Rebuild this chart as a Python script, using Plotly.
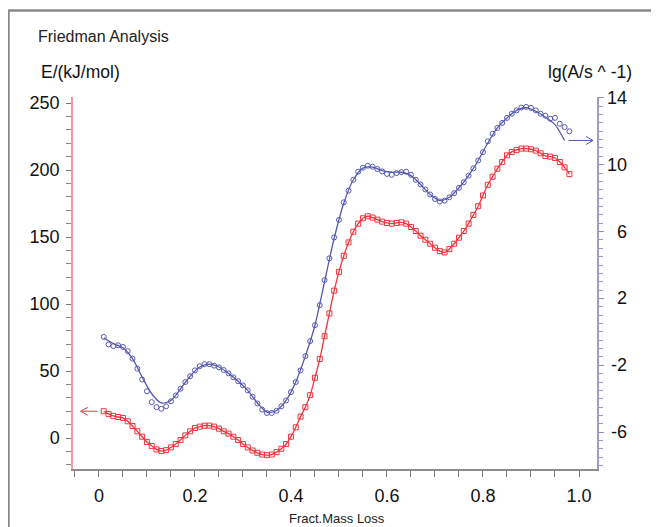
import plotly.graph_objects as go

# ---------------- data ----------------
frac = [0.01, 0.02, 0.03, 0.04, 0.05, 0.06, 0.07, 0.08, 0.09, 0.10,
        0.11, 0.12, 0.13, 0.14, 0.15, 0.16, 0.17, 0.18, 0.19, 0.20,
        0.21, 0.22, 0.23, 0.24, 0.25, 0.26, 0.27, 0.28, 0.29, 0.30,
        0.31, 0.32, 0.33, 0.34, 0.35, 0.36, 0.37, 0.38, 0.39, 0.40,
        0.41, 0.42, 0.43, 0.44, 0.45, 0.46, 0.47, 0.48, 0.49, 0.50,
        0.51, 0.52, 0.53, 0.54, 0.55, 0.56, 0.57, 0.58, 0.59, 0.60,
        0.61, 0.62, 0.63, 0.64, 0.65, 0.66, 0.67, 0.68, 0.69, 0.70,
        0.71, 0.72, 0.73, 0.74, 0.75, 0.76, 0.77, 0.78, 0.79, 0.80,
        0.81, 0.82, 0.83, 0.84, 0.85, 0.86, 0.87, 0.88, 0.89, 0.90,
        0.91, 0.92, 0.93, 0.94, 0.95, 0.96, 0.97, 0.98]

# Activation energy E / (kJ/mol)  (left axis, red squares)
energy = [20, 18, 16.5, 15.7, 15, 12.5, 9, 5, 1, -3,
          -6, -8.5, -9.7, -9, -7, -4.5, -1.5, 2, 5, 7.5,
          8.5, 9.2, 9.3, 8.5, 7, 5, 3.3, 1, -1.5, -4.5,
          -7, -9.3, -11, -12.3, -12.8, -12.3, -10.5, -8, -4.5, 1,
          8, 16, 23, 32, 45, 59, 76, 93, 110, 124,
          136, 146, 154, 160, 164, 165.5, 164.5, 163, 161.5, 160.5,
          160, 160.5, 161, 160, 157.5, 154.5, 151, 148, 145, 142,
          139.5, 138.5, 141, 145, 149.5, 154.5, 160, 166.5, 173, 181,
          189, 195, 201, 206, 211, 213.5, 215, 216, 216, 215.5,
          214.5, 212.5, 210.5, 210, 209, 206, 202, 197]

# lg(A / s^-1)  (right axis, blue circles)
lg_a = [-0.3, -0.75, -0.85, -0.8, -0.9, -1.15, -1.6, -2.2, -2.85, -3.55,
        -4.2, -4.5, -4.6, -4.45, -4.15, -3.8, -3.4, -3.0, -2.65, -2.3,
        -2.05, -1.93, -1.93, -2.02, -2.12, -2.28, -2.48, -2.72, -2.95, -3.2,
        -3.5, -3.88, -4.28, -4.65, -4.85, -4.85, -4.72, -4.45, -4.1, -3.6,
        -3.0, -2.3, -1.45, -0.55, 0.4, 1.6, 3.1, 4.4, 5.65, 6.7,
        7.75, 8.45, 9.1, 9.58, 9.82, 9.94, 9.88, 9.74, 9.6, 9.45,
        9.4, 9.5, 9.56, 9.58, 9.4, 9.1, 8.82, 8.52, 8.22, 7.95,
        7.8, 7.85, 8.05, 8.3, 8.62, 8.95, 9.35, 9.78, 10.25, 10.75,
        11.4, 11.85, 12.2, 12.5, 12.8, 13.05, 13.25, 13.42, 13.46, 13.4,
        13.25, 13.05, 12.93, 12.75, 12.8, 12.45, 12.25, 12.0]

# smoothed fit line drawn through the lg(A) points
fit_frac = [0.01, 0.03, 0.05, 0.07, 0.09, 0.11, 0.13, 0.15, 0.17, 0.19,
            0.21, 0.23, 0.25, 0.27, 0.29, 0.31, 0.33, 0.35, 0.37, 0.39,
            0.41, 0.43, 0.45, 0.47, 0.49, 0.51, 0.53, 0.55, 0.57, 0.59,
            0.61, 0.63, 0.65, 0.67, 0.69, 0.71, 0.73, 0.75, 0.77, 0.79,
            0.81, 0.83, 0.85, 0.87, 0.89, 0.91, 0.93, 0.95, 0.97]
lg_a_fit = [-0.35, -0.7, -0.95, -1.6, -2.7, -3.7, -4.25, -4.1, -3.4, -2.65,
            -2.1, -1.93, -2.1, -2.48, -2.95, -3.5, -4.25, -4.8, -4.7, -4.1,
            -3.0, -1.45, 0.4, 3.0, 5.6, 7.7, 9.1, 9.8, 9.85, 9.65,
            9.55, 9.55, 9.35, 8.82, 8.22, 7.85, 8.05, 8.62, 9.35, 10.25,
            11.3, 12.2, 12.8, 13.25, 13.42, 13.2, 12.85, 12.4, 11.45]

x_tickvals = [0, 0.2, 0.4, 0.6, 0.8, 1.0]
x_ticktext = ["0", "0.2", "0.4", "0.6", "0.8", "1.0"]
e_tickvals = [0, 50, 100, 150, 200, 250]
a_tickvals = [-6, -2, 2, 6, 10, 14]

# ---------------- styling / layout ----------------
WIN_W, WIN_H = 659, 527
OFF = 8                              # page body margin
W, H = WIN_W - OFF, WIN_H - OFF
L, R, T, B = 73, 597, 97, 469        # plot-area box in window pixels
RED = "#f2343f"
BLUE = "#5558b0"
TICKFONT = dict(family="Liberation Sans Narrow, Liberation Sans, Arial", size=18, color="#111")

x_range = [-0.054, 1.0375]
e_range = [-23.1, 254.5]
a_range = [-8.2, 14.05]


def px_x(p):
    return (p - L) / (R - L)


def px_y(p):
    return (B - p) / (B - T)


def dx_paper(v):
    return (v - x_range[0]) / (x_range[1] - x_range[0])


def a_paper(v):
    return (v - a_range[0]) / (a_range[1] - a_range[0])


def e_paper(v):
    return (v - e_range[0]) / (e_range[1] - e_range[0])


fig = go.Figure()

fig.add_trace(go.Scatter(
    x=fit_frac, y=lg_a_fit, yaxis="y2", mode="lines",
    line=dict(color=BLUE, width=1.3, shape="spline", smoothing=0.8),
    hoverinfo="skip", showlegend=False))
fig.add_trace(go.Scatter(
    x=frac, y=lg_a, yaxis="y2", mode="markers",
    marker=dict(symbol="circle-open", size=5, color=BLUE, line=dict(width=1)),
    showlegend=False))
fig.add_trace(go.Scatter(
    x=frac, y=energy, mode="lines+markers",
    line=dict(color=RED, width=1.3, shape="spline", smoothing=0.8),
    marker=dict(symbol="square-open", size=5, color=RED, line=dict(width=1)),
    showlegend=False))

# arrows indicating which axis each series belongs to (paper coords)
ux = 1.0 / (R - L)    # paper units per px (x)
uy = 1.0 / (B - T)    # paper units per px (y)
yr = e_paper(energy[0])
xr0, xr1 = dx_paper(frac[0]) - 6 * ux, dx_paper(frac[0]) - 23 * ux
yb = a_paper(lg_a_fit[-1])
xb0, xb1 = dx_paper(fit_frac[-1]) + 4 * ux, px_x(593)
shapes = [
    dict(type="path", xref="paper", yref="paper", line=dict(color=RED, width=1),
         path=f"M{xr0},{yr} L{xr1},{yr} M{xr1 + 7*ux},{yr + 4*uy} L{xr1},{yr} L{xr1 + 7*ux},{yr - 4*uy}"),
    dict(type="path", xref="paper", yref="paper", line=dict(color=BLUE, width=1),
         path=f"M{xb0},{yb} L{xb1},{yb} M{xb1 - 7*ux},{yb + 4*uy} L{xb1},{yb} L{xb1 - 7*ux},{yb - 4*uy}"),
    # outer frame (left and top edges visible)
    dict(type="line", xref="paper", yref="paper", x0=px_x(8.5), x1=px_x(8.5), y0=px_y(10.5), y1=px_y(540),
         line=dict(color="#8a8a8a", width=2.5)),
    dict(type="line", xref="paper", yref="paper", x0=px_x(7.5), x1=px_x(670), y0=px_y(10.5), y1=px_y(10.5),
         line=dict(color="#8a8a8a", width=2.5)),
]

annotations = [
    dict(text="Friedman Analysis", xref="paper", yref="paper", x=px_x(36), y=px_y(37),
         xanchor="left", yanchor="middle", showarrow=False,
         font=dict(family="Liberation Sans, Arial", size=16, color="#222")),
    dict(text="E/(kJ/mol)", xref="paper", yref="paper", x=px_x(39), y=px_y(72),
         xanchor="left", yanchor="middle", showarrow=False,
         font=dict(family="Liberation Sans Narrow, Liberation Sans, Arial", size=17.5, color="#111")),
    dict(text="lg(A/s ^ -1)", xref="paper", yref="paper", x=px_x(634), y=px_y(72),
         xanchor="right", yanchor="middle", showarrow=False,
         font=dict(family="Liberation Sans Narrow, Liberation Sans, Arial", size=17.5, color="#111")),
    dict(text="Fract.Mass Loss", xref="paper", yref="paper", x=px_x(337), y=px_y(518),
         xanchor="center", yanchor="middle", showarrow=False,
         font=dict(family="Liberation Sans, Arial", size=13, color="#222")),
]
# right-axis tick labels (right-aligned as in the reference)
for v in a_tickvals:
    annotations.append(dict(text=str(v), xref="paper", yref="y2", x=px_x(629), y=v,
                            xanchor="right", yanchor="middle", showarrow=False,
                            font=TICKFONT))

fig.update_layout(
    width=W, height=H,
    margin=dict(l=L - OFF, r=WIN_W - R, t=T - OFF, b=WIN_H - B, pad=0),
    paper_bgcolor="white", plot_bgcolor="white",
    showlegend=False,
    xaxis=dict(range=x_range, showgrid=False, zeroline=False,
               showline=True, linecolor="#8c8c8c", linewidth=1.5,
               tickmode="array", tickvals=x_tickvals, ticktext=x_ticktext,
               ticks="outside", ticklen=6, tickcolor="#777", tickwidth=1,
               minor=dict(dtick=0.05, tick0=0, ticks="outside", ticklen=6, tickcolor="#777"),
               tickfont=TICKFONT, ticklabelstandoff=4),
    yaxis=dict(range=e_range, showgrid=False, zeroline=False,
               showline=True, linecolor="#f29a9a", linewidth=1.5,
               tickmode="array", tickvals=e_tickvals,
               ticks="outside", ticklen=5, tickcolor="#777", tickwidth=1,
               minor=dict(dtick=10, tick0=0, ticks="outside", ticklen=5, tickcolor="#888"),
               tickfont=TICKFONT, ticklabelstandoff=3),
    yaxis2=dict(range=a_range, overlaying="y", side="right", showgrid=False, zeroline=False,
                showline=True, linecolor="#9a9ad0", linewidth=1.5,
                tickmode="array", tickvals=a_tickvals, showticklabels=False,
                ticks="outside", ticklen=5, tickcolor="#8c8cc0", tickwidth=1,
                minor=dict(dtick=0.5, tick0=0, ticks="outside", ticklen=4, tickcolor="#9a9ac8")),
    shapes=shapes,
    annotations=annotations,
)

fig.write_html("out.html")
